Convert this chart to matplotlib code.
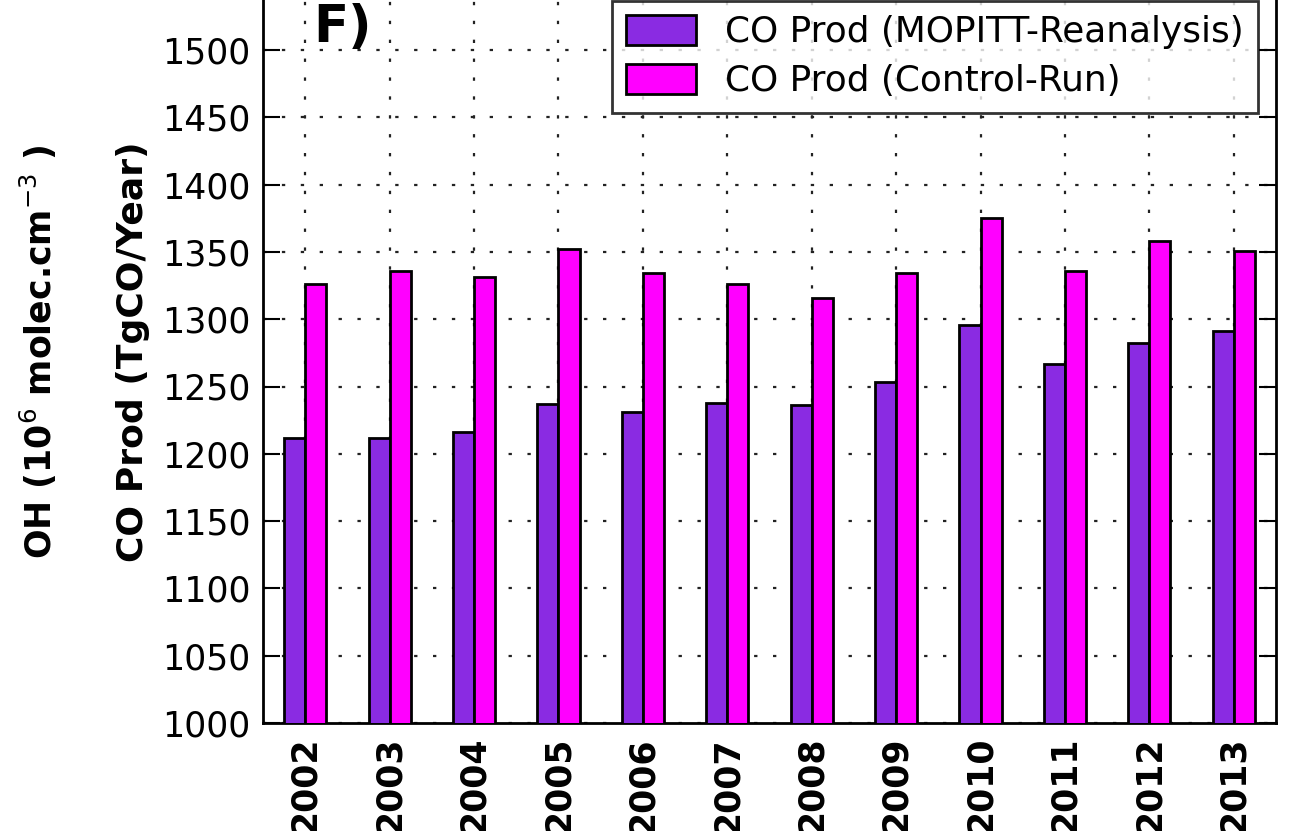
import matplotlib
matplotlib.use("Agg")
import matplotlib.pyplot as plt
import numpy as np

# anos e valores de produção de CO (TgCO/ano)
anos = ["2002", "2003", "2004", "2005", "2006", "2007",
        "2008", "2009", "2010", "2011", "2012", "2013"]
co_mopitt = [1212, 1212, 1216, 1237, 1231, 1238, 1236, 1253, 1296, 1267, 1282, 1291]
co_controle = [1326, 1336, 1331, 1352, 1334, 1326, 1316, 1334, 1375, 1336, 1358, 1351]

rotulo_mopitt = "CO Prod (MOPITT-Reanalysis)"
rotulo_controle = "CO Prod (Control-Run)"

fig = plt.figure(figsize=(12.92, 8.31), dpi=100)
fig.patch.set_facecolor("white")

# eixo principal (topo fica fora da figura, como no recorte original)
ax = fig.add_axes([263 / 1292, 108 / 831, 1013 / 1292, 740.3 / 831])

x = np.arange(len(anos))
largura = 0.25
ax.bar(x, co_mopitt, width=-largura, align="edge", color="#8A2BE2",
       edgecolor="black", linewidth=2, label=rotulo_mopitt, zorder=3)
ax.bar(x, co_controle, width=largura, align="edge", color="#FF00FF",
       edgecolor="black", linewidth=2, label=rotulo_controle, zorder=3)

ax.set_xlim(-0.5, len(anos) - 0.5)
ax.set_ylim(1000, 1550)
ax.set_yticks(np.arange(1000, 1501, 50))
ax.set_xticks(x)
ax.set_xticklabels(anos, rotation=90, fontweight="bold", fontsize=25)
ax.tick_params(axis="y", labelsize=25, pad=9)
ax.tick_params(axis="x", pad=10)
ax.tick_params(direction="in", length=12, width=1.5, right=True, top=True)

# grade pontilhada esparsa
ax.grid(True, linestyle=(0, (1.5, 7)), color="#222222", linewidth=1.6, zorder=0)
ax.set_axisbelow(True)
for s in ax.spines.values():
    s.set_linewidth(2)

leg = ax.legend(loc="upper right", fontsize=25.8, frameon=True, fancybox=False,
                borderaxespad=0.5, handlelength=1.95, handleheight=0.9,
                labelspacing=0.42, borderpad=0.4)
leg.get_frame().set_edgecolor("black")
leg.get_frame().set_linewidth(2)

# rótulos do eixo Y e letra do painel
fig.text(133 / 1292, 1 - 352 / 831, "CO Prod (TgCO/Year)", rotation=90,
         ha="center", va="center", fontsize=26, fontweight="bold")
fig.text(38 / 1292, 1 - 352 / 831, r"OH (10$^6$ molec.cm$^{-3}$ )", rotation=90,
         ha="center", va="center", fontsize=25, fontweight="bold")
fig.text(313 / 1292, 1 - 42 / 831, "F)", fontsize=37, fontweight="bold",
         va="baseline", ha="left")

fig.savefig("out.png", dpi=100)
